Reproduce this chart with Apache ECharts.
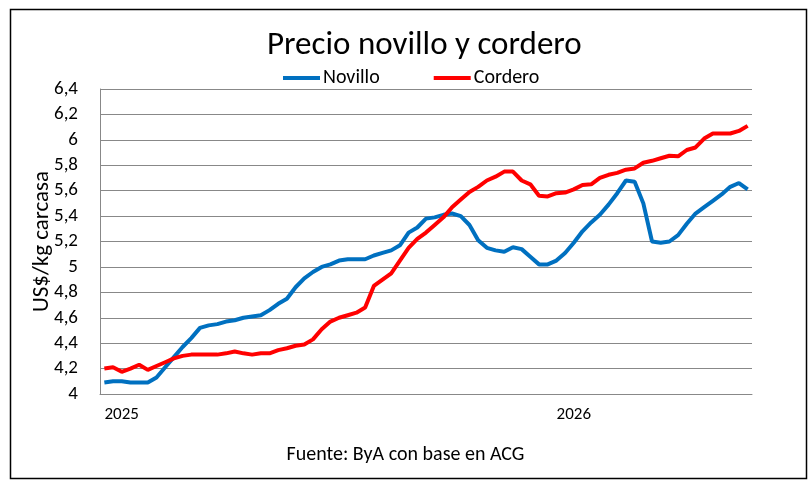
<!DOCTYPE html>
<html>
<head>
<meta charset="utf-8">
<script src="https://cdn.jsdelivr.net/npm/echarts@6/dist/echarts.min.js"></script>
<style>
html,body{margin:0;padding:0;background:#fff;}
#chart{width:811px;height:480px;}
</style>
</head>
<body>
<div id="chart"></div>
<script>
// Weekly observations; only year starts are labelled
var yearLabels = {2: '2025', 54: '2026'};
var novillo = [4.09,4.10,4.10,4.09,4.09,4.09,4.13,4.21,4.29,4.37,4.44,4.52,4.54,4.55,4.57,4.58,4.60,4.61,4.62,4.66,
  4.71,4.75,4.84,4.91,4.96,5.00,5.02,5.05,5.06,5.06,5.06,5.09,5.11,5.13,5.17,5.27,5.31,5.38,5.39,5.41,
  5.42,5.40,5.33,5.21,5.15,5.13,5.12,5.155,5.14,5.08,5.02,5.02,5.05,5.11,5.19,5.28,5.35,5.41,5.49,5.58,
  5.68,5.67,5.50,5.20,5.19,5.20,5.25,5.34,5.42,5.47,5.52,5.57,5.63,5.66,5.61];
var cordero = [4.20,4.21,4.175,4.20,4.23,4.19,4.22,4.25,4.28,4.30,4.31,4.31,4.31,4.31,4.32,4.335,4.32,4.31,4.32,4.32,
  4.345,4.36,4.38,4.39,4.43,4.51,4.57,4.60,4.62,4.64,4.68,4.85,4.90,4.95,5.05,5.15,5.22,5.27,5.33,5.39,
  5.47,5.53,5.59,5.63,5.68,5.71,5.75,5.75,5.68,5.65,5.56,5.555,5.58,5.585,5.61,5.645,5.65,5.70,5.725,5.74,
  5.765,5.775,5.82,5.835,5.855,5.875,5.87,5.92,5.94,6.01,6.05,6.05,6.05,6.07,6.11];
var categories = novillo.map(function(_, i){ return yearLabels[i] || ''; });
var seriesNames = ['Novillo', 'Cordero'];
var titleText = 'Precio novillo y cordero';
var yAxisName = 'US$/kg carcasa';
var sourceText = 'Fuente: ByA con base en ACG';

var FONT = "Carlito, Calibri, 'Liberation Sans Narrow', 'Liberation Sans', sans-serif";
var chart = echarts.init(document.getElementById('chart'), null, {renderer: 'canvas'});
chart.setOption({
  backgroundColor: '#ffffff',
  animation: false,
  title: {
    text: titleText, left: 262, top: 24,
    textStyle: {fontFamily: FONT, fontSize: 33, fontWeight: 'normal', color: '#000'}
  },
  legend: {
    top: 63, left: 278, itemGap: 54, itemWidth: 37, itemHeight: 4, icon: 'rect',
    textStyle: {fontFamily: FONT, fontSize: 20, color: '#000', padding: [0,0,0,-2]},
    data: seriesNames
  },
  grid: {left: 100, right: 59, top: 89, bottom: 86, containLabel: false},
  xAxis: {
    type: 'category', data: categories, boundaryGap: true,
    axisLine: {show: true, lineStyle: {color: '#888', width: 1}},
    axisTick: {show: false},
    axisLabel: {interval: 0, margin: 12, fontFamily: FONT, fontSize: 17, color: '#000'},
    splitLine: {show: false}
  },
  yAxis: {
    type: 'value', min: 4, max: 6.4, interval: 0.2,
    name: yAxisName, nameLocation: 'middle', nameGap: 46, nameRotate: 90, nameMoveOverlap: false,
    nameTextStyle: {fontFamily: FONT, fontSize: 23, color: '#000'},
    axisLine: {show: true, lineStyle: {color: '#888', width: 1}},
    axisTick: {show: false},
    axisLabel: {margin: 22, fontFamily: FONT, fontSize: 19, color: '#000',
      formatter: function(v){ return String(Math.round(v*10)/10).replace('.', ','); }},
    splitLine: {show: true, lineStyle: {color: '#888', width: 1}}
  },
  series: [
    {name: seriesNames[0], type: 'line', data: novillo, showSymbol: false, symbol: 'none',
      lineStyle: {width: 4, color: '#0070C0'}, itemStyle: {color: '#0070C0'}},
    {name: seriesNames[1], type: 'line', data: cordero, showSymbol: false, symbol: 'none',
      lineStyle: {width: 4, color: '#FF0000'}, itemStyle: {color: '#FF0000'}}
  ],
  graphic: [
    {type: 'rect', left: 8, top: 7, shape: {x: 0, y: 0, width: 796, height: 469},
      style: {fill: 'none', stroke: '#000', lineWidth: 1.5}, silent: true},
    {type: 'text', left: 'center', top: 445,
      style: {text: sourceText, font: '20px ' + FONT, fill: '#000'}}
  ]
});
</script>
</body>
</html>
